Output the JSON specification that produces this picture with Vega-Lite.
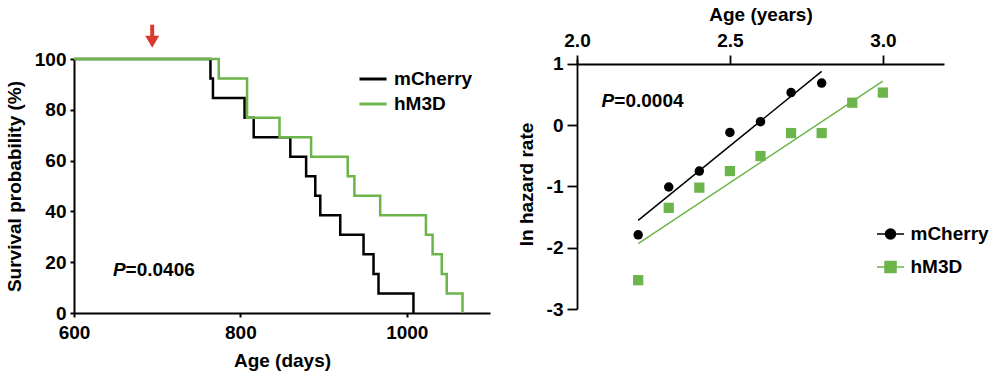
{
  "$schema": "https://vega.github.io/schema/vega-lite/v6.json",
  "background": "white",
  "padding": 5,
  "spacing": 27,
  "config": {
    "view": {"stroke": null},
    "font": "Liberation Sans",
    "axis": {
      "grid": false,
      "domainColor": "black",
      "tickColor": "black",
      "labelColor": "black",
      "titleColor": "black",
      "labelFont": "Liberation Sans",
      "titleFont": "Liberation Sans",
      "labelFontSize": 19,
      "titleFontSize": 19,
      "labelFontWeight": "bold",
      "titleFontWeight": "bold",
      "labelFlush": false,
      "labelOverlap": false
    }
  },
  "datasets": {
    "km": [
      {"group": "mCherry", "days": 600, "survival": 100},
      {"group": "mCherry", "days": 764, "survival": 92.3},
      {"group": "mCherry", "days": 767, "survival": 84.6},
      {"group": "mCherry", "days": 805, "survival": 76.9},
      {"group": "mCherry", "days": 816, "survival": 69.2},
      {"group": "mCherry", "days": 860, "survival": 61.5},
      {"group": "mCherry", "days": 879, "survival": 53.8},
      {"group": "mCherry", "days": 890, "survival": 46.2},
      {"group": "mCherry", "days": 896, "survival": 38.5},
      {"group": "mCherry", "days": 920, "survival": 30.8},
      {"group": "mCherry", "days": 948, "survival": 23.1},
      {"group": "mCherry", "days": 960, "survival": 15.4},
      {"group": "mCherry", "days": 966, "survival": 7.7},
      {"group": "mCherry", "days": 1008, "survival": 0},
      {"group": "hM3D", "days": 600, "survival": 100},
      {"group": "hM3D", "days": 774, "survival": 92.3},
      {"group": "hM3D", "days": 808, "survival": 76.9},
      {"group": "hM3D", "days": 847, "survival": 69.2},
      {"group": "hM3D", "days": 885, "survival": 61.5},
      {"group": "hM3D", "days": 929, "survival": 53.8},
      {"group": "hM3D", "days": 937, "survival": 46.2},
      {"group": "hM3D", "days": 968, "survival": 38.5},
      {"group": "hM3D", "days": 1023, "survival": 30.8},
      {"group": "hM3D", "days": 1031, "survival": 23.1},
      {"group": "hM3D", "days": 1042, "survival": 15.4},
      {"group": "hM3D", "days": 1048, "survival": 7.7},
      {"group": "hM3D", "days": 1067, "survival": 0}
    ],
    "arrow": [{"days": 694, "top": 113.5, "bottom": 108.5, "head": 106.8}],
    "ptext1": [{"days": 662, "survival": 17, "p": "P", "rest": "=0.0406"}],
    "hazard": [
      {"group": "mCherry", "years": 2.2, "lnrate": -1.79},
      {"group": "mCherry", "years": 2.3, "lnrate": -1.01},
      {"group": "mCherry", "years": 2.4, "lnrate": -0.75},
      {"group": "mCherry", "years": 2.5, "lnrate": -0.12},
      {"group": "mCherry", "years": 2.6, "lnrate": 0.055},
      {"group": "mCherry", "years": 2.7, "lnrate": 0.53},
      {"group": "mCherry", "years": 2.8, "lnrate": 0.685},
      {"group": "hM3D", "years": 2.2, "lnrate": -2.53},
      {"group": "hM3D", "years": 2.3, "lnrate": -1.35},
      {"group": "hM3D", "years": 2.4, "lnrate": -1.02},
      {"group": "hM3D", "years": 2.5, "lnrate": -0.75},
      {"group": "hM3D", "years": 2.6, "lnrate": -0.505},
      {"group": "hM3D", "years": 2.7, "lnrate": -0.13},
      {"group": "hM3D", "years": 2.8, "lnrate": -0.13},
      {"group": "hM3D", "years": 2.9, "lnrate": 0.365},
      {"group": "hM3D", "years": 3.0, "lnrate": 0.53}
    ],
    "fit": [
      {"group": "mCherry", "years": 2.2, "lnrate": -1.555},
      {"group": "mCherry", "years": 2.8, "lnrate": 0.876},
      {"group": "hM3D", "years": 2.2, "lnrate": -1.935},
      {"group": "hM3D", "years": 3.0, "lnrate": 0.718}
    ],
    "ptext2": [{"years": 2.122, "lnrate": 0.39, "p": "P", "rest": "=0.0004"}]
  },
  "resolve": {"scale": {"color": "independent"}},
  "hconcat": [
    {
      "width": 416,
      "height": 254,
      "layer": [
        {
          "data": {"name": "km"},
          "mark": {"type": "line", "interpolate": "step-after", "strokeWidth": 2.5},
          "encoding": {
            "x": {"field": "days", "type": "quantitative", "scale": {"domain": [600, 1100], "nice": false, "zero": false},
              "axis": {"values": [600, 800, 1000], "format": "d", "title": "Age (days)", "tickSize": 4, "domainWidth": 2, "tickWidth": 2, "labelPadding": 6, "titlePadding": 9}},
            "y": {"field": "survival", "type": "quantitative", "scale": {"domain": [0, 100], "nice": false},
              "axis": {"values": [0, 20, 40, 60, 80, 100], "title": "Survival probability (%)", "tickSize": 4, "domainWidth": 2, "tickWidth": 2, "labelPadding": 4, "titlePadding": 10}},
            "color": {"field": "group", "type": "nominal", "sort": ["mCherry", "hM3D"],
              "scale": {"domain": ["mCherry", "hM3D"], "range": ["black", "#6cb54a"]},
              "legend": {"orient": "none", "legendX": 289.5, "legendY": 10.5, "title": null, "padding": 0,
                "symbolType": "M-1.69,0L1.69,0", "symbolSize": 256, "symbolStrokeWidth": 3,
                "labelOffset": 11.5, "rowPadding": 5, "labelFont": "Liberation Sans", "labelFontSize": 19,
                "labelFontWeight": "bold", "labelColor": "black"}}
          }
        },
        {
          "data": {"name": "arrow"},
          "mark": {"type": "rule", "color": "#d93a2f", "strokeWidth": 4},
          "encoding": {
            "x": {"field": "days", "type": "quantitative", "scale": {"domain": [600, 1100], "nice": false, "zero": false}},
            "y": {"field": "top", "type": "quantitative", "scale": {"domain": [0, 100], "nice": false}},
            "y2": {"field": "bottom"}
          }
        },
        {
          "data": {"name": "arrow"},
          "mark": {"type": "point", "shape": "triangle-down", "filled": true, "color": "#d93a2f", "size": 196, "opacity": 1},
          "encoding": {
            "x": {"field": "days", "type": "quantitative", "scale": {"domain": [600, 1100], "nice": false, "zero": false}},
            "y": {"field": "head", "type": "quantitative", "scale": {"domain": [0, 100], "nice": false}}
          }
        },
        {
          "data": {"name": "ptext1"},
          "mark": {"type": "text", "align": "right", "baseline": "middle", "font": "Liberation Sans", "fontSize": 19, "fontWeight": "bold", "fontStyle": "italic", "color": "black"},
          "encoding": {
            "x": {"field": "days", "type": "quantitative", "scale": {"domain": [600, 1100], "nice": false, "zero": false}},
            "y": {"field": "survival", "type": "quantitative", "scale": {"domain": [0, 100], "nice": false}},
            "text": {"field": "p"}
          }
        },
        {
          "data": {"name": "ptext1"},
          "mark": {"type": "text", "align": "left", "baseline": "middle", "font": "Liberation Sans", "fontSize": 19, "fontWeight": "bold", "color": "black"},
          "encoding": {
            "x": {"field": "days", "type": "quantitative", "scale": {"domain": [600, 1100], "nice": false, "zero": false}},
            "y": {"field": "survival", "type": "quantitative", "scale": {"domain": [0, 100], "nice": false}},
            "text": {"field": "rest"}
          }
        }
      ]
    },
    {
      "width": 367,
      "height": 250,
      "layer": [
        {
          "data": {"name": "fit"},
          "mark": {"type": "line", "strokeWidth": 1.5},
          "encoding": {
            "x": {"field": "years", "type": "quantitative", "scale": {"domain": [2.0, 3.2], "nice": false, "zero": false},
              "axis": {"orient": "top", "offset": -5, "values": [2.0, 2.5, 3.0], "format": ".1f", "title": "Age (years)", "tickSize": 9, "domainWidth": 1.8, "tickWidth": 1.8, "labelPadding": 5, "titlePadding": 7}},
            "y": {"field": "lnrate", "type": "quantitative", "scale": {"domain": [-3, 1.078], "nice": false, "zero": false},
              "axis": {"values": [-3, -2, -1, 0, 1], "labelExpr": "'' + datum.value", "title": "ln hazard rate", "tickSize": 10, "domainWidth": 1.8, "tickWidth": 1.8, "labelPadding": 4, "titlePadding": 10}},
            "color": {"field": "group", "type": "nominal", "sort": ["mCherry", "hM3D"],
              "scale": {"domain": ["mCherry", "hM3D"], "range": ["black", "#6cb54a"]},
              "legend": {"orient": "none", "legendX": 302.5, "legendY": 164, "title": null, "padding": 0,
                "symbolSize": 400, "symbolStrokeWidth": 1.5, "labelOffset": 9, "rowPadding": 12,
                "labelFont": "Liberation Sans", "labelFontSize": 19, "labelFontWeight": "bold", "labelColor": "black",
                "encode": {"symbols": {"update": {
                  "shape": {"signal": "datum.value === 'mCherry' ? 'M-1.35,0L1.35,0M-0.5,0A0.5,0.5,0,1,1,0.5,0A0.5,0.5,0,1,1,-0.5,0Z' : 'M-1.35,0L1.35,0M-0.55,-0.55L0.55,-0.55L0.55,0.55L-0.55,0.55Z'"},
                  "fill": {"signal": "datum.value === 'mCherry' ? 'black' : '#6cb54a'"},
                  "stroke": {"signal": "datum.value === 'mCherry' ? 'black' : '#6cb54a'"},
                  "opacity": {"value": 1}
                }}}}}
          }
        },
        {
          "data": {"name": "hazard"},
          "transform": [{"filter": "datum.group === 'mCherry'"}],
          "mark": {"type": "point", "shape": "circle", "filled": true, "size": 90, "opacity": 1},
          "encoding": {
            "x": {"field": "years", "type": "quantitative", "scale": {"domain": [2.0, 3.2], "nice": false, "zero": false}},
            "y": {"field": "lnrate", "type": "quantitative", "scale": {"domain": [-3, 1.078], "nice": false, "zero": false}},
            "color": {"field": "group", "type": "nominal"}
          }
        },
        {
          "data": {"name": "hazard"},
          "transform": [{"filter": "datum.group === 'hM3D'"}],
          "mark": {"type": "point", "shape": "square", "filled": true, "size": 105, "opacity": 1},
          "encoding": {
            "x": {"field": "years", "type": "quantitative", "scale": {"domain": [2.0, 3.2], "nice": false, "zero": false}},
            "y": {"field": "lnrate", "type": "quantitative", "scale": {"domain": [-3, 1.078], "nice": false, "zero": false}},
            "color": {"field": "group", "type": "nominal"}
          }
        },
        {
          "data": {"name": "ptext2"},
          "mark": {"type": "text", "align": "right", "baseline": "middle", "font": "Liberation Sans", "fontSize": 19, "fontWeight": "bold", "fontStyle": "italic", "color": "black"},
          "encoding": {
            "x": {"field": "years", "type": "quantitative", "scale": {"domain": [2.0, 3.2], "nice": false, "zero": false}},
            "y": {"field": "lnrate", "type": "quantitative", "scale": {"domain": [-3, 1.078], "nice": false, "zero": false}},
            "text": {"field": "p"}
          }
        },
        {
          "data": {"name": "ptext2"},
          "mark": {"type": "text", "align": "left", "baseline": "middle", "font": "Liberation Sans", "fontSize": 19, "fontWeight": "bold", "color": "black"},
          "encoding": {
            "x": {"field": "years", "type": "quantitative", "scale": {"domain": [2.0, 3.2], "nice": false, "zero": false}},
            "y": {"field": "lnrate", "type": "quantitative", "scale": {"domain": [-3, 1.078], "nice": false, "zero": false}},
            "text": {"field": "rest"}
          }
        }
      ]
    }
  ]
}
